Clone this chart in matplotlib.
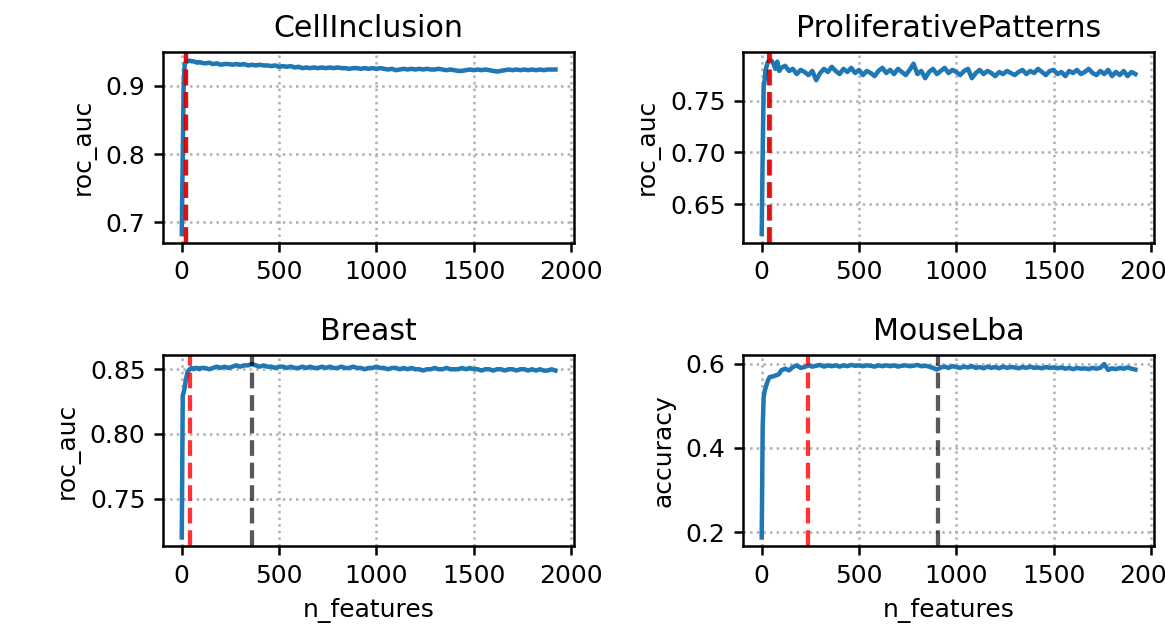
import numpy as np
import matplotlib
matplotlib.use("Agg")
import matplotlib.pyplot as plt

# number of features evaluated (shared by all four datasets)
n_features = [0, 5, 10, 15, 20, 30, 40, 50, 60, 70, 80, 90, 100] + list(range(120, 1921, 20))

titles = ['CellInclusion', 'ProliferativePatterns', 'Breast', 'MouseLba']
metrics = ['roc_auc', 'roc_auc', 'roc_auc', 'accuracy']

score_cell = [
    0.683, 0.800, 0.905, 0.931, 0.935, 0.936, 0.937, 0.936, 0.936, 0.935, 0.934, 0.935, 0.934,
    0.933, 0.934, 0.932, 0.933, 0.931, 0.932, 0.932, 0.931, 0.932, 0.931, 0.932, 0.930, 0.931, 0.930, 0.931, 0.930, 0.930, 0.929, 0.930, 0.928,
    0.929, 0.928, 0.929, 0.927, 0.928, 0.926, 0.927, 0.926, 0.927, 0.926, 0.927, 0.926, 0.927, 0.926, 0.927, 0.926, 0.926, 0.925, 0.926, 0.926,
    0.925, 0.926, 0.925, 0.926, 0.925, 0.926, 0.925, 0.924, 0.925, 0.923, 0.924, 0.925, 0.924, 0.925, 0.924, 0.925, 0.924, 0.925, 0.924, 0.924,
    0.925, 0.924, 0.923, 0.924, 0.923, 0.922, 0.922, 0.923, 0.924, 0.923, 0.924, 0.923, 0.924, 0.923, 0.922, 0.921, 0.922, 0.923, 0.924, 0.923,
    0.924, 0.923, 0.924, 0.923, 0.924, 0.923, 0.924, 0.923, 0.924, 0.924, 0.924]

score_prolif = [
    0.621, 0.700, 0.764, 0.770, 0.780, 0.787, 0.789, 0.789, 0.786, 0.781, 0.788, 0.779, 0.782,
    0.784, 0.779, 0.781, 0.776, 0.780, 0.778, 0.775, 0.779, 0.770, 0.777, 0.781, 0.778, 0.783, 0.779, 0.776, 0.781, 0.778, 0.782, 0.777, 0.780,
    0.775, 0.779, 0.777, 0.774, 0.779, 0.782, 0.777, 0.780, 0.776, 0.781, 0.778, 0.775, 0.780, 0.786, 0.776, 0.779, 0.772, 0.778, 0.781, 0.776,
    0.779, 0.782, 0.777, 0.780, 0.778, 0.775, 0.779, 0.781, 0.772, 0.777, 0.780, 0.776, 0.779, 0.777, 0.774, 0.778, 0.776, 0.779, 0.777, 0.775,
    0.778, 0.780, 0.776, 0.779, 0.777, 0.781, 0.778, 0.775, 0.779, 0.780, 0.776, 0.778, 0.774, 0.779, 0.777, 0.780, 0.776, 0.778, 0.781, 0.777,
    0.775, 0.779, 0.776, 0.780, 0.774, 0.778, 0.775, 0.779, 0.774, 0.778, 0.776]

score_breast = [
    0.720, 0.830, 0.832, 0.836, 0.841, 0.848, 0.850, 0.851, 0.850, 0.851, 0.851, 0.850, 0.851,
    0.851, 0.850, 0.851, 0.852, 0.851, 0.852, 0.851, 0.852, 0.853, 0.852, 0.853, 0.853, 0.854, 0.853, 0.852, 0.853, 0.852, 0.852, 0.851, 0.852,
    0.852, 0.851, 0.852, 0.851, 0.851, 0.852, 0.851, 0.852, 0.851, 0.851, 0.852, 0.851, 0.852, 0.851, 0.851, 0.852, 0.851, 0.851, 0.852, 0.851,
    0.851, 0.850, 0.851, 0.851, 0.852, 0.851, 0.851, 0.850, 0.851, 0.851, 0.850, 0.851, 0.850, 0.851, 0.850, 0.850, 0.849, 0.850, 0.850, 0.851,
    0.850, 0.850, 0.851, 0.850, 0.850, 0.850, 0.851, 0.850, 0.851, 0.850, 0.850, 0.849, 0.850, 0.850, 0.849, 0.850, 0.850, 0.849, 0.850, 0.850,
    0.849, 0.850, 0.850, 0.849, 0.850, 0.849, 0.850, 0.849, 0.849, 0.850, 0.849]

score_mouse = [
    0.188, 0.449, 0.520, 0.535, 0.543, 0.558, 0.568, 0.569, 0.570, 0.572, 0.573, 0.576, 0.584,
    0.588, 0.584, 0.592, 0.596, 0.590, 0.592, 0.596, 0.593, 0.595, 0.597, 0.593, 0.596, 0.594, 0.596, 0.593, 0.596, 0.594, 0.597, 0.595, 0.596,
    0.594, 0.596, 0.595, 0.593, 0.596, 0.594, 0.596, 0.594, 0.596, 0.593, 0.595, 0.596, 0.594, 0.595, 0.597, 0.594, 0.595, 0.593, 0.590, 0.586,
    0.591, 0.593, 0.590, 0.594, 0.592, 0.590, 0.593, 0.591, 0.594, 0.590, 0.592, 0.589, 0.593, 0.590, 0.592, 0.589, 0.593, 0.590, 0.592, 0.591,
    0.589, 0.592, 0.590, 0.593, 0.590, 0.591, 0.589, 0.592, 0.590, 0.591, 0.589, 0.591, 0.588, 0.590, 0.587, 0.590, 0.588, 0.589, 0.587, 0.590,
    0.588, 0.590, 0.599, 0.585, 0.589, 0.587, 0.590, 0.588, 0.591, 0.588, 0.586]

scores = [score_cell, score_prolif, score_breast, score_mouse]

# selected number of features (red) and best number of features (grey)
best_n = [20, 36, 363, 908]
chosen_n = [20, 40, 44, 236]

yticks = [[0.7, 0.8, 0.9], [0.65, 0.70, 0.75], [0.75, 0.80, 0.85], [0.2, 0.4, 0.6]]

plt.rcParams['axes.linewidth'] = 1.0
plt.rcParams['xtick.major.width'] = 1.0
plt.rcParams['ytick.major.width'] = 1.0

fig, axes = plt.subplots(2, 2, figsize=(1165/180, 630/180), dpi=180)
plt.subplots_adjust(left=0.140, right=0.9906, top=0.9175, bottom=0.1333,
                    wspace=0.411, hspace=0.592)

for i, ax in enumerate(axes.flat):
    ax.plot(n_features, scores[i], lw=1.8)
    ax.axvline(best_n[i], color='k', ls='--', lw=1.7, alpha=0.65)
    ax.axvline(chosen_n[i], color='red', ls='--', lw=1.7, alpha=0.8)
    ax.set_title(titles[i])
    ax.set_ylabel(metrics[i])
    ax.set_yticks(yticks[i])
    ax.set_xticks([0, 500, 1000, 1500, 2000])
    ax.grid(ls=':', lw=1.0)
    if i >= 2:
        ax.set_xlabel('n_features')

plt.savefig('out.png', dpi=180)
